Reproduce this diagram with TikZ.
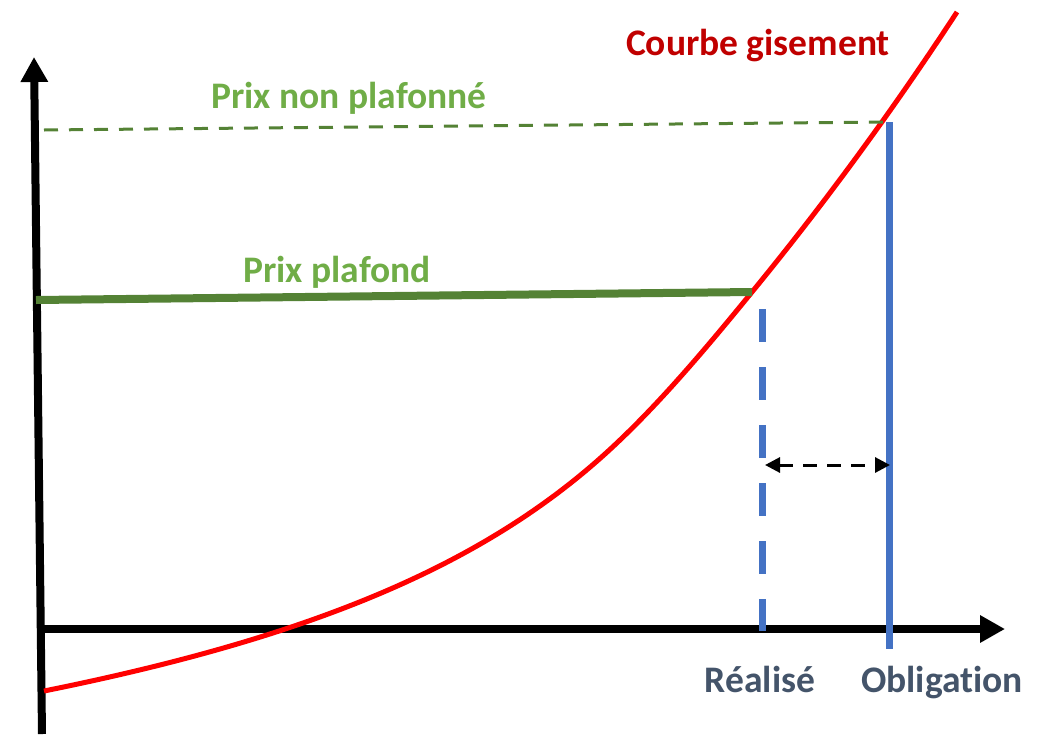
\documentclass[tikz,border=0pt]{standalone}
\usepackage{fontspec}
\setmainfont{Carlito}[Ligatures=NoCommon]
\usepackage{tikz}
\usetikzlibrary{arrows.meta}

\definecolor{gisement}{HTML}{C00000}
\definecolor{prixlabel}{HTML}{70AD47}
\definecolor{prixline}{HTML}{548235}
\definecolor{volume}{HTML}{4472C4}
\definecolor{axislabel}{HTML}{44546A}

\begin{document}
\begin{tikzpicture}[
		x = 1pt, y = -1pt,
		axis/.style = {line width=8pt, -{Triangle[length=25pt, width=26pt]}},
		curve/.style = {line width=5pt, red},
		ceiling/.style = {line width=8pt, prixline},
		noceiling/.style = {line width=3pt, prixline, dash pattern=on 14pt off 11pt},
		realised/.style = {line width=7pt, volume, dash pattern=on 33pt off 25pt},
		obligation/.style = {line width=7pt, volume},
		gap/.style = {line width=3pt, dash pattern=on 14pt off 10pt,
			{Triangle[length=15pt, width=15pt]}-{Triangle[length=15pt, width=15pt]}},
		every node/.style = {font=\bfseries\fontsize{37.5}{42}\selectfont, anchor=base}
		]
		\useasboundingbox (0,0) rectangle (1038,734);
		
		% Axes
		\coordinate (Ybot) at (42,734);
		\coordinate (Ytop) at (34,57);
		\coordinate (Xleft) at (37,629);
		\coordinate (Xright) at (1005,629);
		\draw[axis] (Ybot) -- (Ytop);
		\draw[axis] (Xleft) -- (Xright);
		
		% Points on the curve
		\coordinate (Start) at (44,691);
		\coordinate (Mid) at (620,440);
		\coordinate (Plafond) at (752,292);
		\coordinate (End) at (957,12);
		\coordinate (NonPlafond) at (885,122);
		\coordinate (PlafondL) at (36,300);
		\coordinate (NonPlafondL) at (44,130);
		
		% Courbe gisement
		\draw[curve] (Start) .. controls (322,635) and (495,560) .. (Mid)
			.. controls (664,398) and (708,346) .. (Plafond)
			.. controls (820,209) and (889,116) .. (End);
		
		% Prices
		\draw[noceiling] (NonPlafondL) -- (NonPlafond);
		\draw[ceiling] (PlafondL) -- (Plafond);
		
		% Volumes
		\coordinate (RealTop) at (762,309);
		\coordinate (RealBot) at (762,631);
		\coordinate (OblTop) at (889,122);
		\coordinate (OblBot) at (889,649);
		\draw[realised] (RealTop) -- (RealBot);
		\draw[obligation] (OblTop) -- (OblBot);
		
		% Gap between realised and obligation
		\coordinate (GapL) at (765,465);
		\coordinate (GapR) at (890,465);
		\draw[gap] (GapL) -- (GapR);
		
		% Labels
		\node[text=gisement] (Courbe) at (758,55) {Courbe gisement};
		\node[text=prixlabel] (NonPlafondLabel) at (349,108) {Prix non plafonné};
		\node[text=prixlabel] (PlafondLabel) at (337,282) {Prix plafond};
		\node[text=axislabel] (RealLabel) at (760,692) {Réalisé};
		\node[text=axislabel] (OblLabel) at (942,692) {Obligation};
	\end{tikzpicture}
\end{document}
